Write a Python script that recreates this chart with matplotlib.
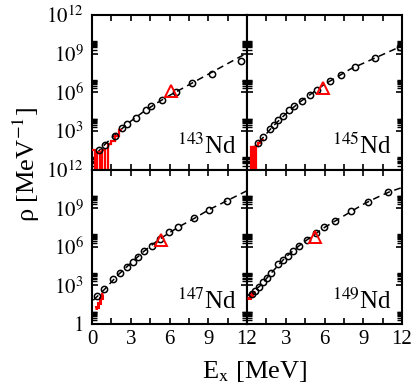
import numpy as np
import matplotlib
matplotlib.use("Agg")
import matplotlib.pyplot as plt
from matplotlib.ticker import FixedLocator, FixedFormatter, NullFormatter

plt.rcParams['font.family'] = ['Liberation Serif', 'DejaVu Serif']
plt.rcParams['mathtext.fontset'] = 'stix'

# ---------------- data (log10 of level density) -----
# 143Nd
e_143 = [0.57, 1.0, 1.78, 2.3, 2.74, 3.41, 4.16, 4.57, 5.4, 6.51, 7.75, 9.28, 11.52]
lr_143 = [1.5, 1.94, 2.64, 3.23, 3.54, 4.01, 4.6, 4.91, 5.38, 6.03, 6.72, 7.45, 8.4]
fit_e_143 = [0.3, 1, 2, 3, 4, 5, 6, 7, 8, 9, 10, 11, 12]
fit_lr_143 = [1.2, 1.95, 2.9, 3.75, 4.5, 5.15, 5.75, 6.3, 6.85, 7.4, 7.95, 8.5, 9.05]
hist_edges_143 = [0.0, 0.2, 0.4, 0.6, 0.8, 1.0, 1.2, 1.5, 1.8, 2.1, 2.3]
hist_rho_143 = [30, 0, 25, 0, 30, 0, 90, 160, 400, 1100]
sn_143, sn_lr_143 = 6.12, 6.1

# 145Nd
e_145 = [0.88, 1.27, 1.78, 2.12, 2.43, 2.82, 3.28, 3.67, 4.24, 4.88, 5.4, 6.43,
         7.29, 8.37, 9.92, 11.81]
lr_145 = [2.07, 2.53, 3.15, 3.49, 3.83, 4.14, 4.6, 4.91, 5.35, 5.82, 6.21, 6.85,
          7.32, 7.96, 8.66, 9.52]
fit_e_145 = [0.3, 1, 2, 3, 4, 5, 6, 7, 8, 9, 10, 11, 12]
fit_lr_145 = [1.5, 2.2, 3.35, 4.32, 5.17, 5.9, 6.62, 7.2, 7.8, 8.25, 8.7, 9.15, 9.6]
hist_edges_145 = [0.20, 0.30, 0.48, 0.50, 0.64, 0.66, 0.85, 1.05, 1.3]
hist_rho_145 = [0, 55, 0, 55, 0, 70, 110, 180]
sn_145, sn_lr_145 = 5.85, 6.3

# 147Nd
e_147 = [0.41, 0.93, 1.6, 2.17, 2.69, 3.15, 3.54, 4.03, 4.63, 5.27, 5.97, 6.64,
         7.93, 9.02, 10.49]
lr_147 = [2.14, 2.68, 3.46, 3.95, 4.41, 4.85, 5.19, 5.65, 6.09, 6.61, 7.12, 7.51,
          8.23, 8.88, 9.57]
fit_e_147 = [0.1, 1, 2, 3, 4, 5, 6, 7, 8, 9, 10, 11, 12]
fit_lr_147 = [1.85, 2.72, 3.8, 4.72, 5.63, 6.42, 7.1, 7.7, 8.25, 8.85, 9.35, 9.85, 10.35]
hist_edges_147 = [0.2, 0.3, 0.45, 0.6, 0.75, 0.85]
hist_rho_147 = [18, 22, 45, 100, 220]
sn_147, sn_lr_147 = 5.32, 6.53

# 149Nd
e_149 = [0.36, 0.62, 0.93, 1.27, 1.52, 1.86, 2.43, 2.76, 3.15, 3.59, 4.03, 4.63,
         5.35, 5.97, 6.82, 8.06, 9.35, 10.9]
lr_149 = [2.35, 2.55, 2.86, 3.25, 3.56, 3.95, 4.67, 4.98, 5.32, 5.7, 6.04, 6.55,
          7.07, 7.51, 8.03, 8.75, 9.5, 10.22]
fit_e_149 = [0, 1, 2, 3, 4, 5, 6, 7, 8, 9, 10, 11, 12]
fit_lr_149 = [2.15, 2.95, 4.1, 5.2, 6.05, 6.8, 7.5, 8.1, 8.7, 9.3, 9.8, 10.25, 10.6]
hist_edges_149 = [0.0, 0.2, 0.4, 0.6]
hist_rho_149 = [100, 180, 300]
sn_149, sn_lr_149 = 5.25, 6.75

labels = ['143', '145', '147', '149']
x_ticks = [0, 3, 6, 9, 12]
x_minor = [1.5, 4.5, 7.5, 10.5]
y_ticks = [1, 1e3, 1e6, 1e9, 1e12]
y_tick_labels = ['$1$', '$10^{3}$', '$10^{6}$', '$10^{9}$', '$10^{12}$']

panels = [
    (e_143, lr_143, fit_e_143, fit_lr_143, hist_edges_143, hist_rho_143, sn_143, sn_lr_143),
    (e_145, lr_145, fit_e_145, fit_lr_145, hist_edges_145, hist_rho_145, sn_145, sn_lr_145),
    (e_147, lr_147, fit_e_147, fit_lr_147, hist_edges_147, hist_rho_147, sn_147, sn_lr_147),
    (e_149, lr_149, fit_e_149, fit_lr_149, hist_edges_149, hist_rho_149, sn_149, sn_lr_149),
]

# ---------------- figure --------------------------------------------------
W, H = 415, 392
fig = plt.figure(figsize=(W / 100, H / 100), dpi=100)
left, right, top, bottom = 92, 402, 15, 324
pw = (right - left) / 2
ph = (bottom - top) / 2

y_minor = [k * 10.0 ** d for d in (0, 3, 6, 9) for k in range(2, 10)]

for i, (ex, lr, fe, flr, he, hr, sn, snlr) in enumerate(panels):
    row, col = divmod(i, 2)
    x0 = left + col * pw
    y0 = top + row * ph
    ax = fig.add_axes([x0 / W, 1 - (y0 + ph) / H, pw / W, ph / H])
    ax.set_yscale('log')
    ax.set_xlim(0, 12)
    ax.set_ylim(1, 1e12)

    ax.plot(fe, 10.0 ** np.array(flr), ls=(0, (4.5, 3)), color='black', lw=1.1, zorder=2)
    ax.stairs(hr, he, color='red', lw=1.6 if i < 2 else 2.2, baseline=None, zorder=3)
    ax.plot(ex, 10.0 ** np.array(lr), 'o', ms=4.5, mfc='none', mec='black',
            mew=1.1, zorder=4)
    ax.plot([sn], [10.0 ** snlr], '^', ms=9, mfc='none', mec='red', mew=1.4, zorder=5)

    ax.text(0.935, 0.10, '$^{%s}$Nd' % labels[i], transform=ax.transAxes,
            ha='right', va='baseline', fontsize=18)

    for s in ax.spines.values():
        s.set_linewidth(1.5)
    ax.xaxis.set_major_locator(FixedLocator(x_ticks))
    ax.xaxis.set_minor_locator(FixedLocator(x_minor))
    ax.yaxis.set_major_locator(FixedLocator(y_ticks))
    ax.yaxis.set_minor_locator(FixedLocator(y_minor))
    ax.yaxis.set_minor_formatter(NullFormatter())
    ax.xaxis.set_minor_formatter(NullFormatter())
    ax.tick_params(which='both', direction='in', top=True, right=True)
    ax.tick_params(which='major', length=4, width=1.2, labelsize=15)
    ax.tick_params(axis='x', which='minor', length=4, width=1.2)
    ax.tick_params(axis='y', which='minor', length=3.5, width=1.0)
    ax.tick_params(axis='y', pad=6)
    ax.tick_params(axis='x', pad=4)

    if col == 0:
        ylab = list(y_tick_labels)
        if row == 0:
            ylab[0] = ''
        ax.yaxis.set_major_formatter(FixedFormatter(ylab))
    else:
        ax.yaxis.set_major_formatter(NullFormatter())
    if row == 1:
        xlab = [str(v) for v in x_ticks]
        if col == 1:
            xlab[0] = ''
        ax.xaxis.set_major_formatter(FixedFormatter(xlab))
    else:
        ax.xaxis.set_major_formatter(NullFormatter())

fig.text(255 / W, 1 - 372 / H, 'E$_{\\mathrm{x}}$ [MeV]', ha='center', va='center',
         fontsize=19)
fig.text(26 / W, 1 - 165 / H, 'ρ [MeV$^{-1}$]', rotation=90, ha='center',
         va='center', fontsize=19)

fig.savefig('out.png', dpi=100)
